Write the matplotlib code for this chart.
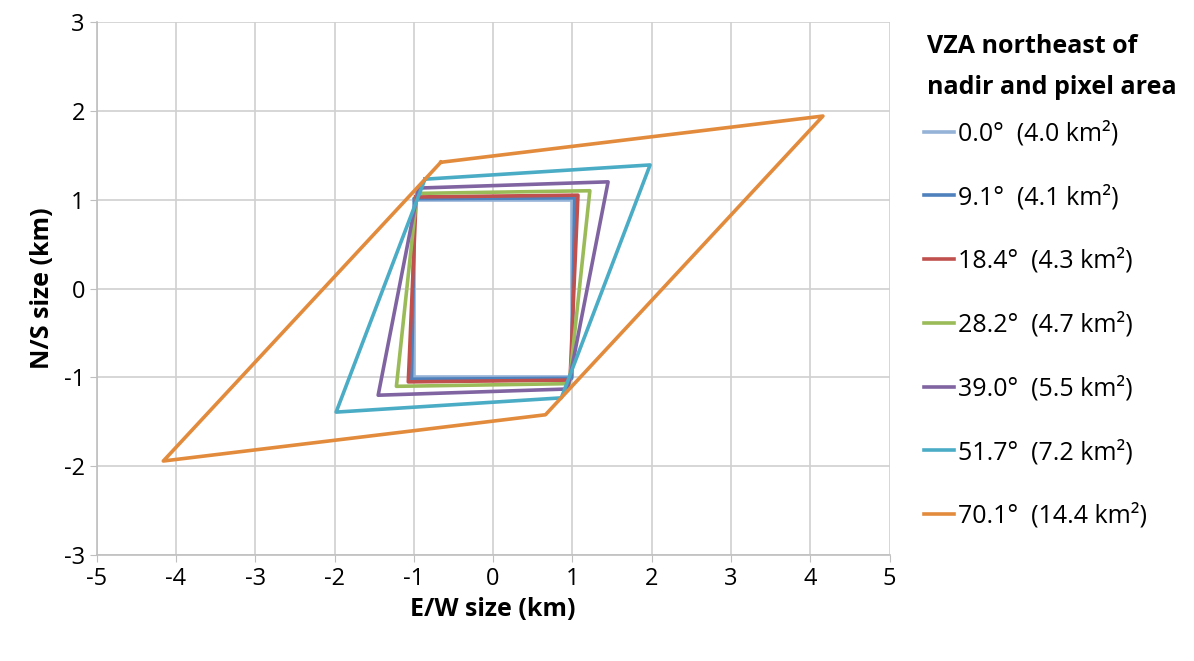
import matplotlib
matplotlib.use('Agg')
from matplotlib import pyplot as plt

plt.rcParams['font.family'] = ['Open Sans', 'DejaVu Sans']
plt.rcParams['axes.unicode_minus'] = False

# Vertices of each pixel footprint (UL, UR, LR, LL), km
labels = ['0.0°  (4.0 km²)', '9.1°  (4.1 km²)', '18.4°  (4.3 km²)', '28.2°  (4.7 km²)',
          '39.0°  (5.5 km²)', '51.7°  (7.2 km²)', '70.1°  (14.4 km²)']
colors = ['#95B3D7', '#4F81BD', '#C0504D', '#9BBB59', '#8064A2', '#4BACC6', '#E38B3D']
xs = [
    [-1.00, 1.00, 1.00, -1.00],
    [-0.99, 1.03, 0.99, -1.03],
    [-0.97, 1.07, 0.97, -1.07],
    [-0.96, 1.22, 0.96, -1.22],
    [-0.94, 1.45, 0.94, -1.45],
    [-0.86, 1.98, 0.86, -1.98],
    [-0.66, 4.16, 0.66, -4.16],
]
ys = [
    [1.00, 1.00, -1.00, -1.00],
    [1.01, 1.02, -1.01, -1.02],
    [1.03, 1.05, -1.03, -1.05],
    [1.07, 1.10, -1.07, -1.10],
    [1.13, 1.20, -1.13, -1.20],
    [1.23, 1.39, -1.23, -1.39],
    [1.42, 1.94, -1.42, -1.94],
]

fig = plt.figure(figsize=(11.94, 6.61), dpi=100)
ax = fig.add_axes([0.081, 0.160, 0.664, 0.807])

for x, y, c, lab in zip(xs, ys, colors, labels):
    ax.plot(x + [x[0]], y + [y[0]], color=c, lw=2.6, label=lab, zorder=3)

ax.set_xlim(-5, 5)
ax.set_ylim(-3, 3)
ax.set_xticks(range(-5, 6))
ax.set_yticks(range(-3, 4))
ax.grid(True, color='#D0D0D0', lw=1.2)
ax.set_axisbelow(True)
for s in ['top', 'right']:
    ax.spines[s].set_visible(False)
for s in ['left', 'bottom']:
    ax.spines[s].set_color('#BFBFBF')
    ax.spines[s].set_linewidth(1.2)
ax.tick_params(labelsize=17, colors='#BFBFBF', labelcolor='black', length=5)
ax.set_xlabel('E/W size (km)', fontsize=18, fontweight='bold', labelpad=4)
ax.set_ylabel('N/S size (km)', fontsize=18, fontweight='bold', labelpad=6)

# legend title drawn separately so its spacing can match
fig.text(0.776, 0.929, 'VZA northeast of', fontsize=18, fontweight='bold', va='center')
fig.text(0.776, 0.868, 'nadir and pixel area', fontsize=18, fontweight='bold', va='center')

leg = fig.legend(loc='upper left', bbox_to_anchor=(0.755, 0.851), frameon=False,
                 fontsize=18, handlelength=1.2, handletextpad=0.15, labelspacing=1.53)

fig.savefig('out.png', dpi=100)
